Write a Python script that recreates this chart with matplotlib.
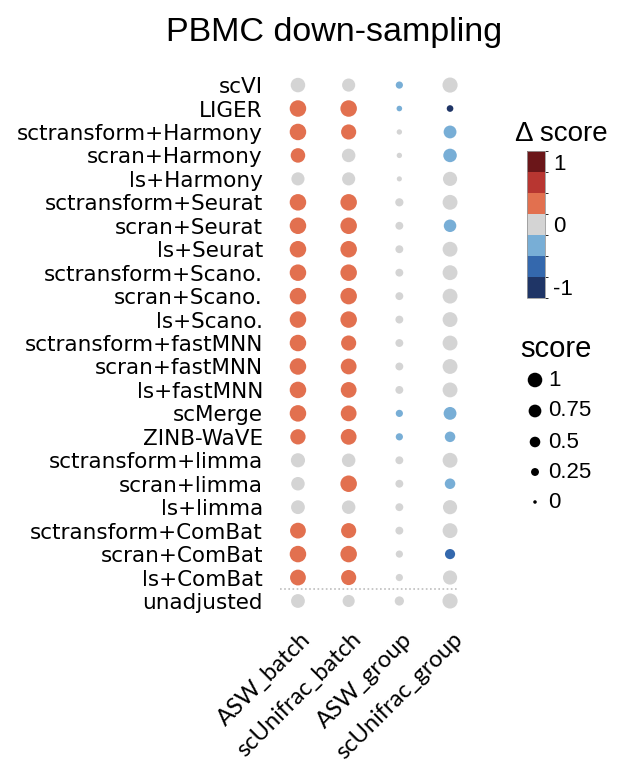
import numpy as np
import matplotlib
matplotlib.use("Agg")
import matplotlib.pyplot as plt
from matplotlib.colors import ListedColormap, BoundaryNorm
from matplotlib.transforms import blended_transform_factory, ScaledTranslation

# methods (rows, top to bottom) and metrics (columns)
methods = ['scVI', 'LIGER', 'sctransform+Harmony', 'scran+Harmony', 'ls+Harmony',
           'sctransform+Seurat', 'scran+Seurat', 'ls+Seurat',
           'sctransform+Scano.', 'scran+Scano.', 'ls+Scano.',
           'sctransform+fastMNN', 'scran+fastMNN', 'ls+fastMNN',
           'scMerge', 'ZINB-WaVE', 'sctransform+limma', 'scran+limma', 'ls+limma',
           'sctransform+ComBat', 'scran+ComBat', 'ls+ComBat', 'unadjusted']
metrics = ['ASW_batch', 'scUnifrac_batch', 'ASW_group', 'scUnifrac_group']

# delta score (colour)
r, g, b, m, n = 0.33, 0.0, -0.33, -0.67, -1.0
delta_asw_batch = [g, r, r, r, g, r, r, r, r, r, r, r, r, r, r, r, g, g, g, r, r, r, g]
delta_unifrac_batch = [g, r, r, g, g, r, r, r, r, r, r, r, r, r, r, r, g, r, g, r, r, r, g]
delta_asw_group = [b, b, g, g, g, g, g, g, g, g, g, g, g, g, b, b, g, g, g, g, g, g, g]
delta_unifrac_group = [g, n, b, b, g, g, b, g, g, g, g, g, g, g, b, b, g, b, g, g, m, g, g]

# score (dot size)
score_asw_batch = [0.76, 1.0, 1.0, 0.76, 0.61, 1.0, 1.0, 1.0, 1.0, 1.0, 1.0, 1.0,
                   1.0, 1.0, 1.0, 0.85, 0.72, 0.65, 0.68, 0.91, 1.0, 0.91, 0.68]
score_unifrac_batch = [0.61, 1.0, 0.83, 0.65, 0.61, 1.0, 1.0, 1.0, 1.0, 1.0, 1.0, 0.83,
                       0.91, 0.91, 0.91, 0.91, 0.65, 1.0, 0.65, 0.83, 1.0, 0.83, 0.51]
score_asw_group = [0.14, 0.06, 0.05, 0.05, 0.04, 0.2, 0.18, 0.18, 0.18, 0.18, 0.18, 0.18,
                   0.18, 0.18, 0.14, 0.14, 0.18, 0.18, 0.18, 0.18, 0.14, 0.14, 0.27]
score_unifrac_group = [0.83, 0.11, 0.58, 0.65, 0.72, 0.8, 0.55, 0.8, 0.8, 0.8, 0.8, 0.8,
                       0.8, 0.8, 0.58, 0.37, 0.8, 0.37, 0.72, 0.8, 0.34, 0.72, 0.83]

legend_scores = [1, 0.75, 0.5, 0.25, 0]
legend_labels = ['1', '0.75', '0.5', '0.25', '0']

delta = np.array([delta_asw_batch, delta_unifrac_batch, delta_asw_group, delta_unifrac_group])
score = np.array([score_asw_batch, score_unifrac_batch, score_asw_group, score_unifrac_group])

colors = ['#1f3566', '#3468ad', '#78aed6', '#d4d4d4', '#e2704f', '#b83631', '#6b1619']
cmap = ListedColormap(colors)
bounds = [-7/6, -5/6, -1/2, -1/6, 1/6, 1/2, 5/6, 7/6]
norm = BoundaryNorm(bounds, cmap.N)

DPI = 100


def dot_size(s):
    # diameter in px (area grows linearly with score), returned as points^2
    d_px = np.sqrt(4.0**2 + (16.5**2 - 4.0**2) * np.asarray(s))
    return (d_px * 72.0 / DPI) ** 2


fig = plt.figure(figsize=(6.19, 7.68), dpi=DPI)

ax = fig.add_axes([0.4404, 0.2022, 0.3276, 0.7023])
nrow = len(methods)
for j in range(len(metrics)):
    ax.scatter(np.full(nrow, j), np.arange(nrow), s=dot_size(score[j]),
               c=delta[j], cmap=cmap, norm=norm, linewidths=0, zorder=3)
ax.set_xlim(-0.5, 3.5)
ax.set_ylim(nrow - 0.5, -0.5)
for sp in ax.spines.values():
    sp.set_visible(False)
ax.set_yticks(np.arange(nrow))
ax.set_yticklabels(methods, fontsize=15.5, family='DejaVu Sans')
ax.tick_params(axis='y', length=0, pad=7)
ax.set_xticks([])

# dotted separator before unadjusted
ax.plot([-0.35, 3.14], [nrow - 1.5, nrow - 1.5], ls=(0, (1, 1.5)), color='#bdbdbd', lw=1.2)

# rotated column labels
tr = blended_transform_factory(ax.transData, ax.transAxes)
off = ScaledTranslation(2 / DPI, -16 / DPI, fig.dpi_scale_trans)
for j, lab in enumerate(metrics):
    ax.text(j, 0, lab, transform=tr + off, rotation=45, rotation_mode='anchor',
            ha='right', va='top', fontsize=17, family='Lato')

fig.text(334 / 619, 1 - 41 / 768, 'PBMC down-sampling', ha='center', va='baseline',
         fontsize=24.5, family='Liberation Sans')

# colour legend
fig.text(515 / 619, 1 - 141 / 768, '\u0394 score', ha='left', va='baseline',
         fontsize=20, family='Liberation Sans')
cax = fig.add_axes([527 / 619, 1 - 298 / 768, 18 / 619, 147 / 768])
sm = plt.cm.ScalarMappable(cmap=cmap, norm=norm)
cb = fig.colorbar(sm, cax=cax, ticks=[-1, 0, 1])
cb.ax.set_yticklabels(['-1', '0', '1'], fontsize=16, family='Liberation Sans')
cb.ax.tick_params(length=0, pad=6)
cb.outline.set_edgecolor('#999999')
cb.outline.set_linewidth(0.6)

# size legend
lax = fig.add_axes([0, 0, 1, 1], zorder=-1)
lax.set_xlim(0, 619)
lax.set_ylim(768, 0)
lax.axis('off')
fig.text(520 / 619, 1 - 357 / 768, 'score', ha='left', va='baseline',
         fontsize=21, family='Liberation Sans')
leg_y = [380, 411, 442, 472, 502]
lax.scatter([535] * len(legend_scores), leg_y, s=dot_size(legend_scores) * 0.78,
            color='black', linewidths=0)
for yy, lab in zip(leg_y, legend_labels):
    lax.text(548, yy, lab, ha='left', va='center', fontsize=16, family='Liberation Sans')

fig.savefig('out.png', dpi=DPI)
